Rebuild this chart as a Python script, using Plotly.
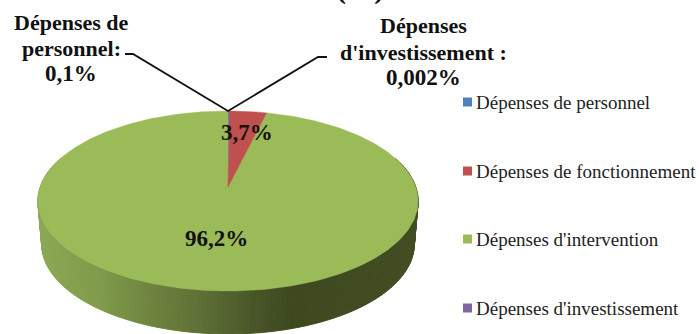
import numpy as np
import plotly.graph_objects as go

# Budget split by spending category (percent)
categories = ["Dépenses de personnel", "Dépenses de fonctionnement",
              "Dépenses d'intervention", "Dépenses d'investissement"]
values = [0.1, 3.7, 96.2, 0.002]
value_labels = ["0,1%", "3,7%", "96,2%", "0,002%"]
slice_colors = ["#4F81BD", "#C0504D", "#9BBB59", "#8064A2"]

# Rim shading: horizontal position -> colour
rim_stops_x = [40, 100, 150, 200, 250, 290, 418]
rim_stops_rgb = [(140, 168, 84), (127, 154, 74), (110, 132, 63),
                 (94, 112, 53), (74, 88, 40), (62, 73, 32), (66, 77, 35)]

CX, CY = 228.0, 187.0   # projected pie centre
S, K, C = 187.8, 87.8, 0.1556   # perspective of the disc
DEPTH, SHRINK = 43.0, 0.98


def project(theta_deg, radius=1.0):
    """Map a clockwise-from-top angle on the disc to the page."""
    t = np.radians(theta_deg)
    u, v = radius * np.sin(t), radius * np.cos(t)
    w = 1 + C * v
    return CX + S * u / w, CY - K * v / w


fig = go.Figure()

# Side wall, shaded in thin strips along the near edge
angles = np.linspace(70, 290, 161)
tx, ty = project(angles)
bx = CX + (tx - CX) * SHRINK
by = ty + DEPTH
for i in range(len(angles) - 1):
    mid = (tx[i] + tx[i + 1]) / 2
    rgb = [np.interp(mid, rim_stops_x, [c[k] for c in rim_stops_rgb]) for k in range(3)]
    col = "rgb({:.0f},{:.0f},{:.0f})".format(*rgb)
    fig.add_trace(go.Scatter(
        x=[tx[i], tx[i + 1], bx[i + 1], bx[i], tx[i]],
        y=[ty[i], ty[i + 1], by[i + 1], by[i], ty[i]],
        mode="lines", fill="toself", fillcolor=col,
        line=dict(color=col, width=1), hoverinfo="skip", showlegend=False))

# Top face: one wedge per category, sized from its value
total = sum(values)
edges = np.concatenate([[0], np.cumsum(values) / total * 360])
# Large slices first so that the thin ones stay visible on top
for i in sorted(range(len(values)), key=lambda j: -values[j]):
    arc = np.linspace(edges[i], edges[i + 1], max(3, int(values[i] * 4)))
    ax_, ay_ = project(arc)
    fig.add_trace(go.Scatter(
        x=np.concatenate([[CX], ax_, [CX]]),
        y=np.concatenate([[CY], ay_, [CY]]),
        mode="lines", fill="toself", fillcolor=slice_colors[i],
        line=dict(color=slice_colors[i], width=0.5 if values[i] > 1 else 0),
        name=categories[i], hoverinfo="name", showlegend=False))

# Leader lines for the two smallest slices
fig.add_trace(go.Scatter(x=[125, 133, CX, 318, 327], y=[54, 54, 111, 57, 57],
                         mode="lines", line=dict(color="#111111", width=1.8),
                         hoverinfo="skip", showlegend=False))

# Key on the right-hand side
key_y = [102, 171, 239, 308]
for name, col, y in zip(categories, slice_colors, key_y):
    fig.add_trace(go.Scatter(
        x=[467.5], y=[y], mode="markers",
        marker=dict(symbol="square", size=9, color=col),
        hoverinfo="skip", showlegend=False))
    fig.add_annotation(x=473.5, y=y, text=name, showarrow=False, xanchor="left",
                       yanchor="middle",
                       font=dict(family="Liberation Serif", size=19, color="#222222"))

# Callout and value labels, one line at a time
bold_lines = [
    (71, 22, "Dépenses de", 22),
    (71, 48, "personnel:", 22),
    (71, 73, value_labels[0], 23),
    (423, 25, "Dépenses", 22),
    (423, 52, "d'investissement :", 22),
    (423, 77, value_labels[3], 23),
    (247, 132, value_labels[1], 23),
    (216, 238, value_labels[2], 23),
]
for x, y, text, size in bold_lines:
    fig.add_annotation(x=x, y=y, text="<b>" + text + "</b>", showarrow=False,
                       font=dict(family="Liberation Serif", size=size, color="#111111"),
                       xanchor="center", yanchor="middle")

# Last line of the heading, cut by the top of the page
fig.add_annotation(xref="paper", yref="paper", x=360 / 699, y=1 + 12 / 334,
                   text="<b>(11)</b>", showarrow=False, xanchor="center", yanchor="middle",
                   font=dict(family="Liberation Serif", size=30, color="#111111"))

fig.update_layout(
    width=699, height=334, margin=dict(l=0, r=0, t=0, b=0),
    paper_bgcolor="white", plot_bgcolor="white", showlegend=False,
    xaxis=dict(range=[0, 699], visible=False, fixedrange=True),
    yaxis=dict(range=[334, 0], visible=False, fixedrange=True),
)
fig.write_html("out.html", config=dict(displayModeBar=False))
